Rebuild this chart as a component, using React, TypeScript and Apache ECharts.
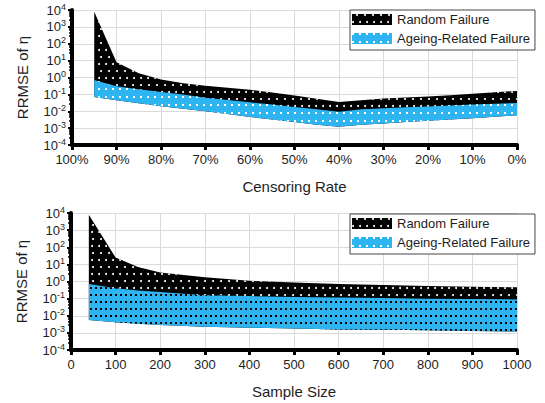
import React, { useEffect, useRef } from 'react';
import * as echarts from 'echarts';

// ---- Top panel: RRMSE vs censoring rate ----
const censoringRate = [95, 90, 85, 80, 75, 70, 65, 60, 55, 50, 45, 40, 35, 30, 25, 20, 15, 10, 5, 0];
const randomUpperA = [8000, 8, 1.8, 0.75, 0.45, 0.33, 0.25, 0.19, 0.13, 0.087, 0.055, 0.035, 0.045, 0.056, 0.065, 0.076, 0.09, 0.11, 0.135, 0.16];
const ageingUpperA = [0.7, 0.3, 0.2, 0.14, 0.1, 0.063, 0.046, 0.034, 0.025, 0.018, 0.013, 0.0095, 0.013, 0.015, 0.017, 0.019, 0.022, 0.025, 0.028, 0.031];
const ageingLowerA = [0.07, 0.045, 0.03, 0.02, 0.014, 0.01, 0.0068, 0.0046, 0.0033, 0.0023, 0.0016, 0.0012, 0.0016, 0.0019, 0.0023, 0.0027, 0.0032, 0.0038, 0.0047, 0.0057];

// ---- Bottom panel: RRMSE vs sample size ----
const sampleSize = [40, 100, 150, 200, 300, 400, 500, 600, 700, 800, 900, 1000];
const randomUpperB = [8000, 25, 7, 3.3, 1.8, 1.1, 0.87, 0.72, 0.63, 0.55, 0.5, 0.46];
const ageingUpperB = [0.72, 0.4, 0.3, 0.24, 0.16, 0.14, 0.125, 0.115, 0.108, 0.1, 0.095, 0.09];
const ageingLowerB = [0.0056, 0.0042, 0.0034, 0.0029, 0.0023, 0.002, 0.0018, 0.0016, 0.0015, 0.0014, 0.0013, 0.0012];

const seriesNames = ['Random Failure', 'Ageing-Related Failure'];
const xNames = ['Censoring Rate', 'Sample Size'];
const yName = 'RRMSE of η';

const FONT = '"Liberation Sans", Arial, Helvetica, sans-serif';
const BLUE = '#2EB4F1';
const TEXT = '#1e1e1e';

const blackDecal = {
  symbol: 'circle', symbolSize: 1, color: '#ffffff',
  dashArrayX: [[1.7, 5], [0, 3.35, 1.7, 1.65]], dashArrayY: [1.7, 4.3],
};
const blueDecalWhite = {
  symbol: 'rect', symbolSize: 1, color: '#ffffff',
  dashArrayX: [1.6, 4.4], dashArrayY: [1.6, 5.6],
};
const blueDecalBlack = {
  symbol: 'rect', symbolSize: 1, color: '#000000',
  dashArrayX: [1.7, 2.8], dashArrayY: [1.7, 4.8],
};

// value stored first so that stacking acts on the y (value) dimension
function band(name: string, xs: number[], lower: number[], upper: number[], stack: string, idx: number, color: string, decal: any) {
  return [
    {
      type: 'line', name: name + ' (base)', stack, xAxisIndex: idx, yAxisIndex: idx,
      encode: { x: 1, y: 0 },
      data: xs.map((x, i) => [lower[i], x]), symbol: 'none', silent: true,
      lineStyle: { width: 0, opacity: 0 }, itemStyle: { color },
    },
    {
      type: 'line', name, stack, xAxisIndex: idx, yAxisIndex: idx,
      encode: { x: 1, y: 0 },
      data: xs.map((x, i) => [upper[i] - lower[i], x]), symbol: 'none', silent: true,
      lineStyle: { width: 0, opacity: 0 }, itemStyle: { color, decal },
      areaStyle: { color, opacity: 1 },
    },
  ];
}

function yAxis(idx: number) {
  return {
    type: 'log', gridIndex: idx, logBase: 10, min: 1e-4, max: 1e4, splitNumber: 8,
    name: yName, nameLocation: 'middle', nameGap: 42,
    nameTextStyle: { fontSize: 15, color: TEXT, fontFamily: FONT },
    axisLine: { show: true, onZero: false, lineStyle: { color: '#000', width: 4 } },
    axisTick: { show: true, length: 4, lineStyle: { color: '#000', width: 2 } },
    minorTick: { show: true, splitNumber: 5, length: 3, lineStyle: { color: '#000', width: 1.5 } },
    splitLine: { show: true, lineStyle: { color: '#dadada', width: 1 } },
    axisLabel: {
      margin: 6,
      formatter: (v: number) => `{b|10}{s|${Math.round(Math.log10(v))}}`,
      rich: {
        b: { fontSize: 13, color: TEXT, fontFamily: FONT, lineHeight: 16 },
        s: { fontSize: 9, color: TEXT, fontFamily: FONT, lineHeight: 9, verticalAlign: 'top' },
      },
    },
  };
}

function xAxis(idx: number, extra: any) {
  return {
    type: 'value', gridIndex: idx,
    name: xNames[idx], nameLocation: 'middle', nameGap: 34,
    nameTextStyle: { fontSize: 15, color: TEXT, fontFamily: FONT },
    axisLine: { show: true, onZero: false, lineStyle: { color: '#000', width: 4 } },
    axisTick: { show: true, length: 5, lineStyle: { color: '#000', width: 3 } },
    splitLine: { show: true, lineStyle: { color: '#dadada', width: 1 } },
    ...extra,
  };
}

function legend(top: number) {
  return {
    left: 350, top, orient: 'vertical', selectedMode: false,
    data: seriesNames.map((n) => ({ name: n, icon: 'rect' })),
    itemWidth: 40, itemHeight: 11, itemGap: 6,
    padding: [3, 5, 5, 2],
    borderColor: '#444', borderWidth: 1, backgroundColor: '#fff',
    textStyle: { fontSize: 13, color: TEXT, fontFamily: FONT },
    itemStyle: { borderWidth: 0 },
  };
}

export default function App() {
  const ref = useRef<HTMLDivElement>(null);
  useEffect(() => {
    document.body.style.margin = '0';
    if (!ref.current) return;
    const chart = echarts.init(ref.current, undefined, { renderer: 'svg' });
    chart.setOption({
      animation: false,
      backgroundColor: '#fff',
      textStyle: { fontFamily: FONT },
      grid: [
        { left: 72, right: 28, top: 10, height: 135 },
        { left: 71, right: 28, top: 213, height: 137 },
      ],
      xAxis: [
        xAxis(0, {
          min: 0, max: 100, interval: 10, inverse: true,
          axisLabel: { formatter: '{value}%', fontSize: 13, color: TEXT, fontFamily: FONT, margin: 8 },
        }),
        xAxis(1, {
          min: 0, max: 1000, interval: 100,
          axisLabel: { formatter: (v: number) => String(v), fontSize: 13, color: TEXT, fontFamily: FONT, margin: 8 },
        }),
      ],
      yAxis: [yAxis(0), yAxis(1)],
      legend: [legend(10), legend(214)],
      series: [
        ...band(seriesNames[0], censoringRate, ageingLowerA, randomUpperA, 'r0', 0, '#000000', blackDecal),
        ...band(seriesNames[1], censoringRate, ageingLowerA, ageingUpperA, 'a0', 0, BLUE, blueDecalWhite),
        ...band(seriesNames[0], sampleSize, ageingLowerB, randomUpperB, 'r1', 1, '#000000', blackDecal),
        ...band(seriesNames[1], sampleSize, ageingLowerB, ageingUpperB, 'a1', 1, BLUE, blueDecalBlack),
      ],
    });
    return () => chart.dispose();
  }, []);
  return <div ref={ref} style={{ width: 545, height: 403 }} />;
}
